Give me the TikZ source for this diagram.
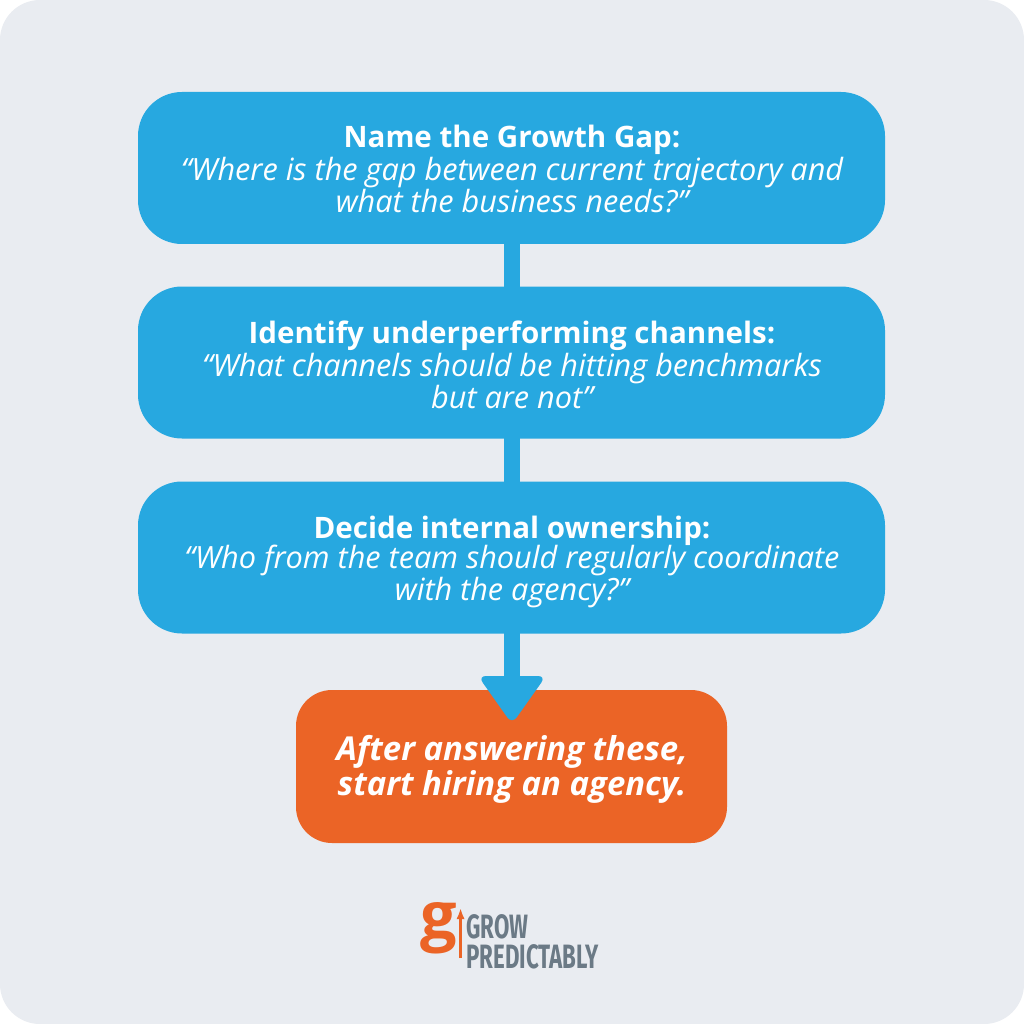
\documentclass[tikz,border=0pt]{standalone}
\usepackage{fontspec}
\usetikzlibrary{arrows.meta}
\setmainfont{Open Sans}
\newfontfamily\logofont{Fira Sans}
\definecolor{bg}{HTML}{E9ECF1}
\definecolor{blu}{HTML}{27A8E0}
\definecolor{org}{HTML}{EB6426}
\definecolor{gry}{HTML}{6B7A86}
\begin{document}
\begin{tikzpicture}[x=0.025cm,y=-0.025cm,
  stepbox/.style={fill=blu,rounded corners=11mm,draw=none},
  ttl/.style={text=white,font=\fontsize{21}{24}\selectfont\bfseries},
  sub/.style={text=white,font=\fontsize{21.8}{20.5}\selectfont\itshape,align=center}]
\fill[white] (0,0) rectangle (1024,1024);
\fill[bg,rounded corners=1cm] (0,0) rectangle (1024,1024);
\useasboundingbox (0,0) rectangle (1024,1024);
% stems
\fill[blu] (504,240) rectangle (520,290);
\fill[blu] (504,435) rectangle (520,485);
\fill[org,rounded corners=9mm] (296,690) rectangle (727,843);
\fill[blu] (504,630) rectangle (520,680);
\fill[blu,rounded corners=2mm] (478,676) -- (546,676) -- (512,724) -- cycle;
\node[stepbox,minimum width=747*0.025cm,minimum height=152*0.025cm] (b1) at (511.5,168) {};
\node[stepbox,minimum width=747*0.025cm,minimum height=152*0.025cm] (b2) at (511.5,362.5) {};
\node[stepbox,minimum width=747*0.025cm,minimum height=152*0.025cm] (b3) at (511.5,557.5) {};
\node[ttl] (t1) at (512,140) {Name the Growth Gap:};
\node[sub] (s1) at (512,185) {“Where is the gap between current trajectory and\\what the business needs?”};
\node[ttl] (t2) at (512,336) {Identify underperforming channels:};
\node[sub] (s2) at (512,381) {“What channels should be hitting benchmarks\\but are not”};
\node[ttl] (t3) at (512,531) {Decide internal ownership:};
\node[sub] (s3) at (512,576) {“Who from the team should regularly coordinate\\with the agency?”};
\node[text=white,font=\fontsize{23.4}{25}\selectfont\bfseries\itshape,align=center] (o) at (512,769) {After answering these,\\start hiring an agency.};
% logo
\node[text=org,font=\bfseries\fontsize{46}{46}\selectfont,inner sep=0pt] (g) at (439,928) {g};
\draw[org,line width=2.4pt,-{Latex[length=2.8mm]}] (g.east) ++(3,30) -- ++(0,-50);
\node[text=gry,font=\logofont\bfseries\fontsize{24}{21}\selectfont,align=left,anchor=west,xscale=0.66,inner sep=0pt] (lg) at (466,942) {GROW\\PREDICTABLY};
\end{tikzpicture}
\end{document}
